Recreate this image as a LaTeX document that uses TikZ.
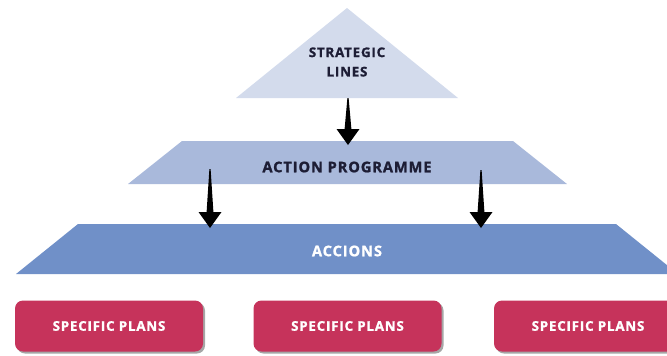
\documentclass[tikz,border=0pt]{standalone}
\usepackage{fontspec}
\setmainfont{Open Sans}
\newfontfamily\capsfont{Open Sans}[LetterSpace=6,BoldFeatures={FakeBold=1.2}]
\usetikzlibrary{calc,shadows}

\definecolor{topblue}{HTML}{D3DBEC}
\definecolor{midblue}{HTML}{A9B9DB}
\definecolor{lowblue}{HTML}{7090C8}
\definecolor{planred}{HTML}{C6335B}
\definecolor{darkink}{HTML}{1D1D35}

\tikzset{every picture/.style={line width=0.75pt}}
\tikzset{
  layerlabel/.style={inner sep=0.75pt,text=darkink,font=\capsfont\bfseries\fontsize{11}{13}\selectfont},
  toplabel/.style={inner sep=0.75pt,text=darkink,align=center,font=\capsfont\bfseries\fontsize{10}{14.5}\selectfont},
  planbox/.style={fill=planred,rounded corners=6pt,minimum width=141pt,minimum height=38.25pt,
    text=white,font=\capsfont\bfseries\fontsize{10}{12}\selectfont,
    drop shadow={shadow xshift=1.5pt,shadow yshift=-1.5pt,fill=black,opacity=0.35}}
}
% tapered black arrow between two named points
\newcommand{\taperarrow}[2]{%
  \fill[black] ($(#1)+(-0.6,0)$) -- ($(#2)+(-3.4,-16)$) -- ($(#2)+(-11.5,-16)$) -- (#2)
    -- ($(#2)+(11.5,-16)$) -- ($(#2)+(3.4,-16)$) -- ($(#1)+(0.6,0)$) -- cycle;}

\begin{document}
\begin{tikzpicture}[x=0.75pt,y=0.75pt,yscale=-1,xscale=1]
\useasboundingbox (0,0) rectangle (667,355);

%Triangle
\fill [topblue] (236,98) -- (347,8) -- (458,98) -- cycle;
%Trapezoid
\fill [midblue] (182,141) -- (513,141) -- (567,184) -- (128,184) -- cycle;
%Trapezoid
\begin{scope}
\clip (0,0) rectangle (667,355);
\fill [lowblue] (78,224) -- (616,224) -- (678,274) -- (16,274) -- cycle;
\end{scope}

% Text Node
\node [toplabel] (strat) at (347,62) {STRATEGIC\\LINES};
% Text Node
\node [layerlabel] (prog) at (347,167) {ACTION PROGRAMME};
% Text Node
\node [layerlabel,text=white] (acc) at (347,251) {ACCIONS};

% Plans
\begin{scope}
\clip (0,0) rectangle (667,355);
\node [planbox] (planA) at (109,326) {SPECIFIC PLANS};
\node [planbox] (planB) at (347.5,326) {SPECIFIC PLANS};
\node [planbox] (planC) at (588,326) {SPECIFIC PLANS};
\end{scope}

%Arrows
\coordinate (topS) at (348,98);
\coordinate (topE) at (348,145);
\coordinate (leftS) at (210,169);
\coordinate (leftE) at (210,228);
\coordinate (rightS) at (481,170);
\coordinate (rightE) at (481,228);
\taperarrow{topS}{topE}
\taperarrow{leftS}{leftE}
\taperarrow{rightS}{rightE}

\end{tikzpicture}
\end{document}
